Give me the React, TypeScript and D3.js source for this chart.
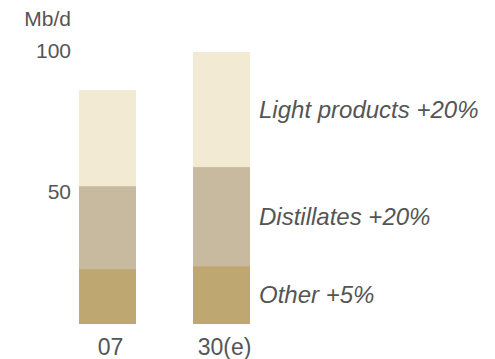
import React from "react";
import * as d3 from "d3";

const categories = ["07", "30(e)"];
const series = ["Other", "Distillates", "Light products"];
const otherValues = [20.2, 21.3];
const distillateValues = [30.5, 36.4];
const lightValues = [35.3, 42.3];
const seriesLabels = ["Other +5%", "Distillates +20%", "Light products +20%"];
const colors = ["#BFA771", "#C8BA9E", "#F3EAD3"];
const yTicks = [50, 100];
const unitLabel = "Mb/d";

const W = 495;
const H = 359;

export default function App() {
  const rows = categories.map((c, i) => ({
    cat: c,
    Other: otherValues[i],
    Distillates: distillateValues[i],
    "Light products": lightValues[i],
  }));
  const stacked = d3.stack<any>().keys(series)(rows);

  const x = d3.scaleBand<string>().domain(categories).range([79, 250]).paddingInner(0.5).paddingOuter(0);
  const y = d3.scaleLinear().domain([0, 100]).range([324, 52]);
  const tickY = d3.scaleLinear().domain([0, 100]).range([333.5, 50.5]);

  const font = "'Liberation Sans', Arial, sans-serif";
  const textColor = "#555555";
  const lastIdx = categories.length - 1;

  return (
    <svg width={W} height={H} style={{ position: "absolute", left: 0, top: 0 }} fontFamily={font}>
      <rect width={W} height={H} fill="#ffffff" />
      <text x={71} y={26} textAnchor="end" fontSize={21} fill={textColor}>{unitLabel}</text>
      {yTicks.map((t) => (
        <text key={t} x={71} y={tickY(t)} dy="0.35em" textAnchor="end" fontSize={21} fill={textColor}>{t}</text>
      ))}
      {stacked.map((s, si) => (
        <g key={s.key} fill={colors[si]}>
          {s.map((d, i) => (
            <rect key={i} x={x(categories[i])} width={x.bandwidth()} y={y(d[1])} height={y(d[0]) - y(d[1])} />
          ))}
        </g>
      ))}
      {categories.map((c) => (
        <text key={c} x={(x(c) as number) + x.bandwidth() / 2 + 3} y={355} textAnchor="middle" fontSize={23} fill={textColor}>{c}</text>
      ))}
      {stacked.map((s, si) => {
        const d = s[lastIdx];
        return (
          <text key={s.key} x={259} y={(y(d[0]) + y(d[1])) / 2} dy="0.35em" fontSize={24} fontStyle="italic" fill={textColor}>{seriesLabels[si]}</text>
        );
      })}
    </svg>
  );
}
